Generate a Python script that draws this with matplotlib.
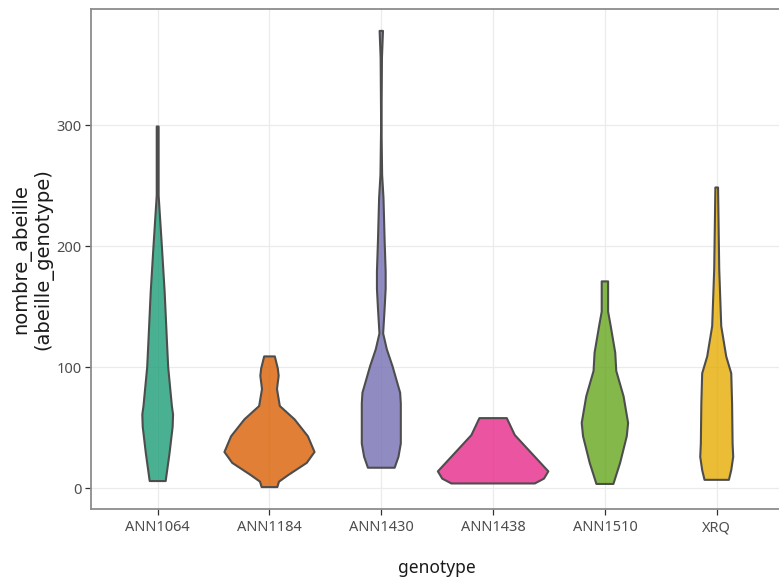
import matplotlib
matplotlib.use("Agg")
import matplotlib.pyplot as plt
import numpy as np

# ---- data ----
genotypes = ["ANN1064", "ANN1184", "ANN1430", "ANN1438", "ANN1510", "XRQ"]
fill_colors = ["#1B9E77", "#D95F02", "#7570B3", "#E7298A", "#66A61E", "#E6AB02"]

# violin profiles: levels of nombre_abeille (top -> bottom) and full width (category units)
ann1064_levels = [299, 242, 200, 162, 120, 100, 68, 61, 51, 29, 6]
ann1064_widths = [0.017, 0.017, 0.075, 0.125, 0.167, 0.188, 0.254, 0.275, 0.268, 0.212, 0.143]

ann1184_levels = [109, 99, 93, 82, 68, 57, 43, 30, 21, 11, 5.5, 1]
ann1184_widths = [0.095, 0.149, 0.164, 0.134, 0.185, 0.448, 0.687, 0.806, 0.666, 0.337, 0.170, 0.140]

ann1430_levels = [378, 356, 300, 259, 240, 204, 179, 165, 149, 128, 115, 101, 79, 70, 37, 26, 17]
ann1430_widths = [0.030, 0.012, 0.003, 0.015, 0.039, 0.060, 0.078, 0.078, 0.060, 0.033,
                  0.098, 0.200, 0.337, 0.349, 0.349, 0.307, 0.239]

ann1438_levels = [58, 44, 14, 8, 4]
ann1438_widths = [0.245, 0.388, 0.988, 0.910, 0.746]

ann1510_levels = [171, 146, 134, 112, 97, 76, 54, 43, 21, 3.6]
ann1510_widths = [0.057, 0.057, 0.104, 0.185, 0.203, 0.334, 0.415, 0.391, 0.272, 0.152]

xrq_levels = [248.6, 181, 134, 109, 95, 70, 37, 26, 15, 7]
xrq_widths = [0.024, 0.045, 0.081, 0.170, 0.260, 0.275, 0.284, 0.295, 0.260, 0.218]

profiles = [
    (ann1064_levels, ann1064_widths),
    (ann1184_levels, ann1184_widths),
    (ann1430_levels, ann1430_widths),
    (ann1438_levels, ann1438_widths),
    (ann1510_levels, ann1510_widths),
    (xrq_levels, xrq_widths),
]
y_ticks = [0, 100, 200, 300]

# ---- figure ----
W, H = 779, 579
fig = plt.figure(figsize=(W / 100, H / 100), dpi=100)
left_px, right_px = 90.6, 783.8
top_px, bottom_px = 9, 509
ax = fig.add_axes([left_px / W, (H - bottom_px) / H,
                   (right_px - left_px) / W, (bottom_px - top_px) / H])

ax.set_xlim(0.4, 6.6)
ax.set_ylim(-17.1, 396.1)

for i, ((levels, widths), col) in enumerate(zip(profiles, fill_colors)):
    pos = i + 1
    lv = np.array(levels, dtype=float)
    wd = np.array(widths, dtype=float)
    xs = np.concatenate([pos + wd[::-1] / 2, pos - wd / 2])
    ys = np.concatenate([lv[::-1], lv])
    ax.fill(xs, ys, facecolor=col, alpha=0.8, edgecolor="none", zorder=3)
    ax.fill(xs, ys, facecolor="none", edgecolor="#4D4D4D", linewidth=1.5,
            joinstyle="round", zorder=4)

ax.set_xticks(range(1, len(genotypes) + 1))
ax.set_xticklabels(genotypes)
ax.set_yticks(y_ticks)
ax.set_yticklabels([str(v) for v in y_ticks])

ax.grid(True, color="#EBEBEB", linewidth=0.9, zorder=0)
ax.set_axisbelow(True)
for s in ax.spines.values():
    s.set_color("#8C8C8C")
    s.set_linewidth(1.3)

ax.tick_params(axis="both", which="major", length=4, width=0.9, color="#333333",
               labelcolor="#4D4D4D", labelsize=10.5)
ax.tick_params(axis="x", pad=4)
ax.tick_params(axis="y", pad=2.5)
for lab in ax.get_xticklabels() + ax.get_yticklabels():
    lab.set_family("Noto Sans")

fig.text(436.7 / W, 1 - 568 / H, "genotype", ha="center", va="center",
         fontsize=12.5, family="Noto Sans", color="#1A1A1A")
fig.text(32 / W, 1 - 259 / H, "nombre_abeille\n(abeille_genotype)", ha="center",
         va="center", rotation=90, fontsize=14, family="DejaVu Sans",
         color="#1A1A1A", linespacing=1.15, multialignment="center")

fig.savefig("out.png", dpi=100)
